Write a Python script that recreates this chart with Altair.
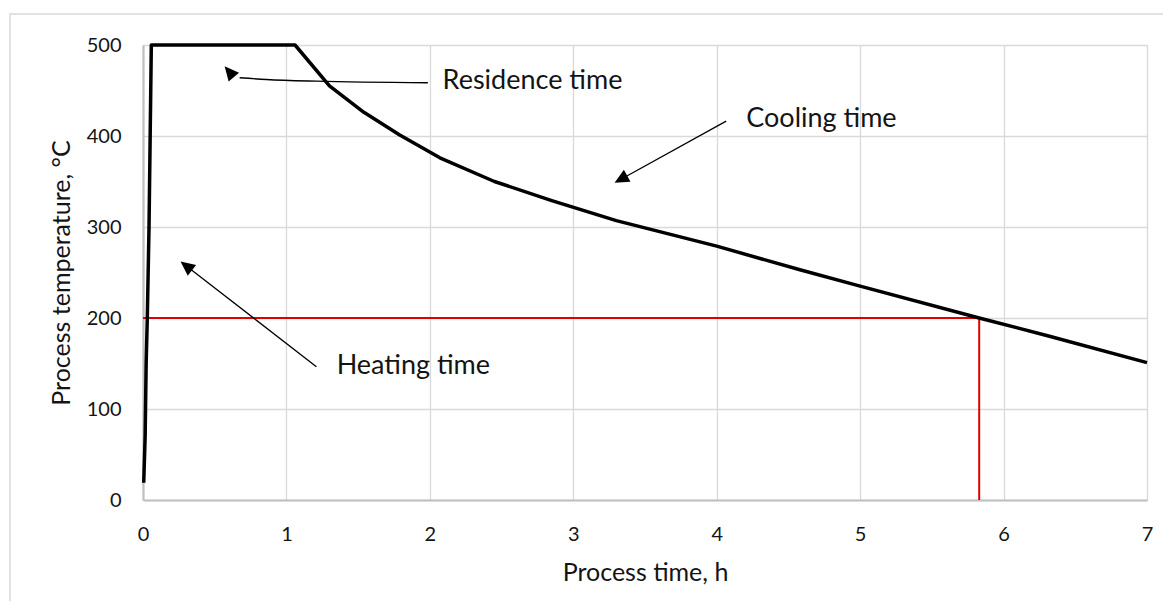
import altair as alt
import pandas as pd

# Process curve (time in hours, temperature in °C)
time_h = [0.005, 0.015, 0.022, 0.03, 0.042, 0.05, 0.058, 1.06, 1.30, 1.54, 1.79,
          2.07, 2.45, 2.85, 3.3, 4.0, 4.58, 5.0, 5.83, 6.32, 7.0]
temp_c = [19, 70, 150, 200, 300, 400, 500, 500, 455, 426, 401,
          376, 350, 329, 307, 279, 253, 235, 200, 180, 151]

# Red reference lines
threshold_temp = 200
threshold_time = 5.83

tick_x = [0, 1, 2, 3, 4, 5, 6, 7]
tick_y = [0, 100, 200, 300, 400, 500]

# Annotation arrows (data units)
arrow_name = ["Residence"] * 4 + ["Heating"] * 2 + ["Cooling"] * 2
arrow_x = [0.674, 0.860, 1.209, 1.986, 0.334, 1.209, 3.361, 4.066]
arrow_y = [464.0, 462.1, 460.2, 458.5, 253.4, 146.5, 355.0, 416.3]

head_x = [0.569, 0.262, 3.288]
head_y = [476.7, 262.0, 348.6]
head_angle = [320, 308, 241]

label_text = ["Residence time", "Heating time", "Cooling time"]
label_x = [2.089, 1.350, 4.206]
label_y = [460, 147.2, 418.2]

FONT = "Lato"
TEXT = "#141414"
XT = "Process time, h"
YT = "Process temperature, °C"

curve = pd.DataFrame({"t": time_h, "T": temp_c})
arrows = pd.DataFrame({"name": arrow_name, "t": arrow_x, "T": arrow_y})
heads = pd.DataFrame({"t": head_x, "T": head_y, "angle": head_angle})
labels = pd.DataFrame({"text": label_text, "t": label_x, "T": label_y})
hline = pd.DataFrame({"t": [0], "t2": [threshold_time], "T": [threshold_temp]})
vline = pd.DataFrame({"t": [threshold_time], "T": [0], "T2": [threshold_temp]})

xscale = alt.Scale(domain=[0, 7], nice=False)
yscale = alt.Scale(domain=[0, 500], nice=False)

xax = alt.Axis(values=tick_x, grid=True, gridColor="#d9d9d9", gridWidth=1.3,
               domainColor="#bfbfbf", domainWidth=2.2, ticks=False,
               labelFont=FONT, labelFontSize=20, labelColor=TEXT, labelPadding=24,
               titleFont=FONT, titleFontSize=25, titleFontWeight="normal",
               titleColor=TEXT, titlePadding=16, labelFlush=False)
yax = alt.Axis(values=tick_y, grid=True, gridColor="#d9d9d9", gridWidth=1.3,
               domainColor="#bfbfbf", domainWidth=2.2, ticks=False,
               labelFont=FONT, labelFontSize=20, labelColor=TEXT, labelPadding=22,
               titleFont=FONT, titleFontSize=25, titleFontWeight="normal",
               titleColor=TEXT, titlePadding=12, labelFlush=False)


def X(field="t:Q"):
    return alt.X(field, scale=xscale, title=XT, axis=xax)


def Y(field="T:Q"):
    return alt.Y(field, scale=yscale, title=YT, axis=yax)


border = alt.Chart(pd.DataFrame({"a": [0]})).mark_rect(
    fill=None, stroke="#d9d9d9", strokeWidth=1.5
).encode(x=alt.value(-133), x2=alt.value(3000), y=alt.value(-31), y2=alt.value(3000))

line = alt.Chart(curve).mark_line(color="black", strokeWidth=3.5, strokeJoin="round").encode(
    x=X(), y=Y(), order=alt.Order("t:Q"),
)

red_h = alt.Chart(hline).mark_rule(color="#e00000", strokeWidth=2).encode(
    x=X(), x2="t2:Q", y=Y(),
)
red_v = alt.Chart(vline).mark_rule(color="#e00000", strokeWidth=2).encode(
    x=X(), y=Y(), y2="T2:Q",
)

arrow_lines = alt.Chart(arrows).mark_line(color="black", strokeWidth=1.3,
                                          interpolate="monotone").encode(
    x=X(), y=Y(), detail="name:N", order=alt.Order("t:Q"),
)

arrow_heads = alt.Chart(heads).mark_point(
    shape="M0,0L-0.85,1.8L0.85,1.8Z", size=256, filled=True, color="black", opacity=1
).encode(
    x=X(), y=Y(), angle=alt.Angle("angle:Q", scale=None),
)

texts = alt.Chart(labels).mark_text(
    align="left", baseline="middle", font=FONT, fontSize=27, color=TEXT
).encode(
    x=X(), y=Y(), text="text:N",
)

chart = alt.layer(border, red_h, red_v, line, arrow_lines, arrow_heads, texts).properties(
    width=1004, height=455,
    autosize=alt.AutoSizeParams(type="none"),
    padding={"left": 135, "top": 37, "right": 16, "bottom": 101},
).configure_view(stroke=None).configure(background="white")

chart.save("out.html", embed_options={"renderer": "svg", "actions": False})
